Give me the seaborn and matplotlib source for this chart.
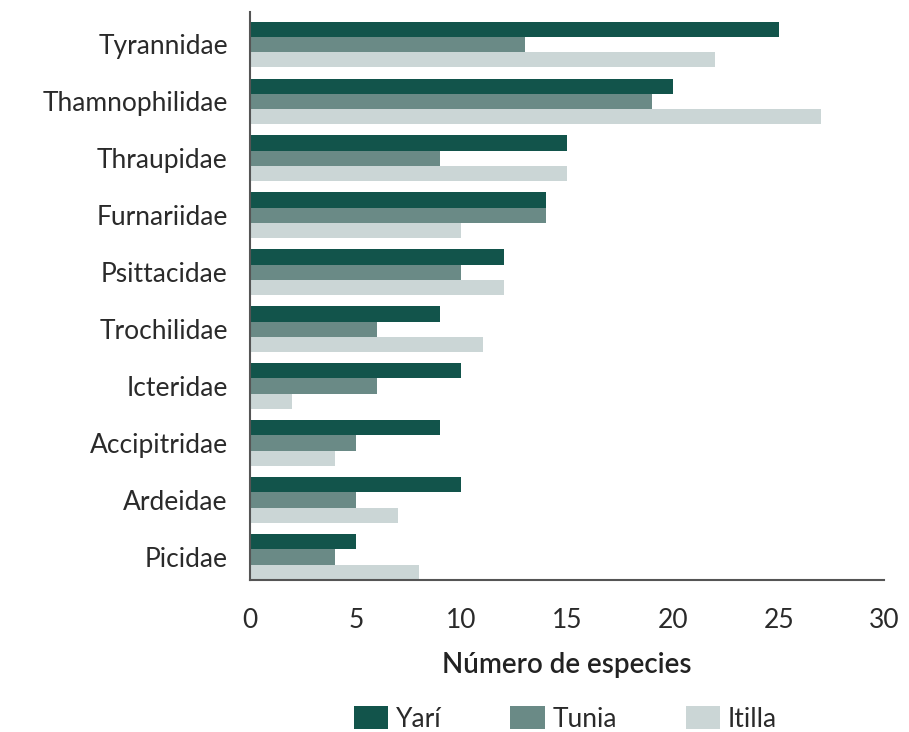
import seaborn as sns
import matplotlib.pyplot as plt
import pandas as pd

# Data
families = ['Tyrannidae', 'Thamnophilidae', 'Thraupidae', 'Furnariidae', 'Psittacidae',
            'Trochilidae', 'Icteridae', 'Accipitridae', 'Ardeidae', 'Picidae']
sites = ['Yarí', 'Tunia', 'Itilla']
yari = [25, 20, 15, 14, 12, 9, 10, 9, 10, 5]
tunia = [13, 19, 9, 14, 10, 6, 6, 5, 5, 4]
itilla = [22, 27, 15, 10, 12, 11, 2, 4, 7, 8]

colors = ['#12544b', '#6a8a86', '#cbd6d6']

df = pd.DataFrame({
    'Familia': families * 3,
    'Sitio': [s for s in sites for _ in families],
    'Especies': yari + tunia + itilla,
})

sns.set_style('white')
plt.rcParams['font.family'] = ['Lato', 'DejaVu Sans']

fig = plt.figure(figsize=(9.09, 7.32), dpi=100)
ax = fig.add_axes([0.275, 0.208, 0.698, 0.775])

sns.barplot(data=df, x='Especies', y='Familia', hue='Sitio', palette=colors,
            orient='h', width=0.8, saturation=1, linewidth=0, ax=ax, legend=True)

ax.set_xlim(0, 30)
ax.set_ylim(9.4, -0.56)
ax.set_xticks(range(0, 31, 5))
ax.tick_params(axis='both', length=0, labelsize=19, labelcolor='#2a2a2a')
ax.tick_params(axis='x', pad=20)
ax.tick_params(axis='y', pad=16)
ax.set_ylabel('')
ax.set_xlabel('Número de especies', fontsize=20, fontweight='semibold',
              color='#222222', labelpad=14)

for side in ['top', 'right']:
    ax.spines[side].set_visible(False)
for side in ['left', 'bottom']:
    ax.spines[side].set_color('#555555')
    ax.spines[side].set_linewidth(1.5)

handles, labels = ax.get_legend_handles_labels()
ax.get_legend().remove()
leg = fig.legend(handles, labels, loc='lower center', bbox_to_anchor=(0.622, -0.032),
                 ncol=3, frameon=False, fontsize=19, handlelength=1.3, handleheight=1.0,
                 handletextpad=0.3, columnspacing=2.6)
for t in leg.get_texts():
    t.set_color('#2a2a2a')

plt.savefig('out.png', dpi=100)
